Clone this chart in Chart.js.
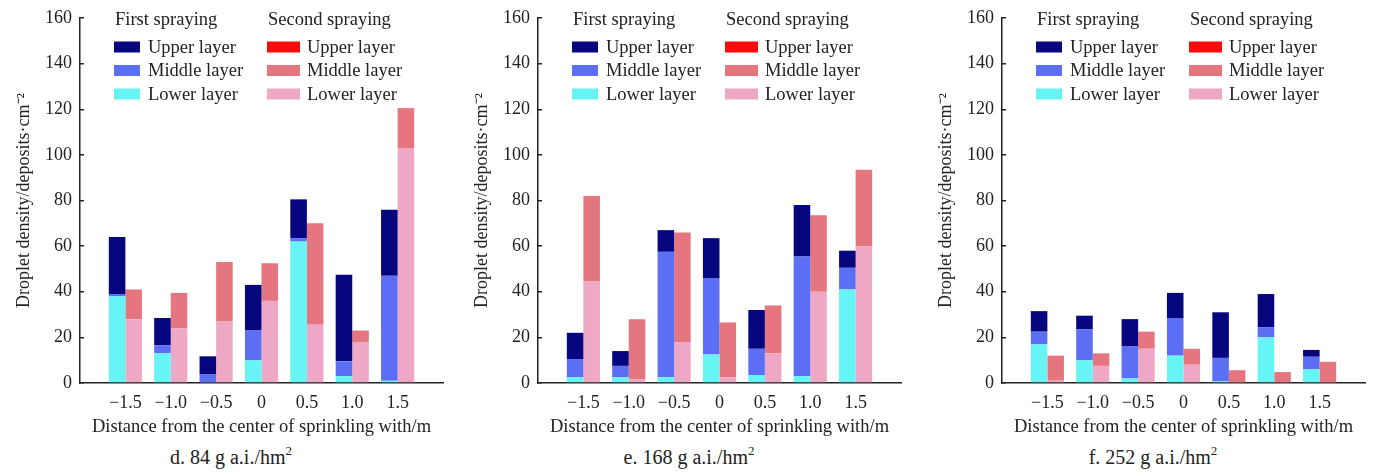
<!DOCTYPE html>
<html lang="en">
<head>
    <meta charset="UTF-8">
    <title>Droplet density</title>
    <script src="https://cdn.jsdelivr.net/npm/chart.js"></script>
    <style>
        body { margin: 0; background: #fff; width: 1373px; height: 474px; overflow: hidden; position: relative; }
        .panel { position: absolute; top: 0; width: 462px; height: 474px; }
        .panel canvas { position: absolute; left: 0; top: 0; }
        .caption { position: absolute; left: 0; width: 462px; top: 446px; text-align: center;
            font-family: "Liberation Serif", serif; font-size: 20px; color: #222; }
        .caption sup { font-size: 13px; vertical-align: 9px; line-height: 0; }
    </style>
</head>
<body>
    <div class="panel" style="left:0px"><canvas id="chartD" width="450" height="440"></canvas>
        <div class="caption">d. 84 g a.i./hm<sup>2</sup></div></div>
    <div class="panel" style="left:458px"><canvas id="chartE" width="450" height="440"></canvas>
        <div class="caption">e. 168 g a.i./hm<sup>2</sup></div></div>
    <div class="panel" style="left:922px"><canvas id="chartF" width="450" height="440"></canvas>
        <div class="caption">f. 252 g a.i./hm<sup>2</sup></div></div>

    <script>
        // distances from the sprinkling centre (x axis)
        const distances = ['\u22121.5', '\u22121.0', '\u22120.5', '0', '0.5', '1.0', '1.5'];

        // layer values (stacked)
        // d. 84 g a.i./hm2
        const firstLowerD = [38, 13, 0.3, 10, 62, 3, 1];
        const firstMiddleD = [1, 3.5, 3.4, 13, 1.5, 6.5, 46];
        const firstUpperD = [25, 12, 8, 20, 17, 38, 29];
        const secondLowerD = [28, 24, 27, 36, 25.5, 18, 103];
        const secondMiddleD = [13, 15.5, 26, 16.5, 44.5, 5, 17.5];
        const secondUpperD = [0, 0, 0, 0, 0, 0, 0];

        // e. 168 g a.i./hm2
        const firstLowerE = [2.5, 2.5, 2.5, 12.5, 3.5, 3, 41];
        const firstMiddleE = [8, 5, 55, 33.5, 11.5, 52.5, 9.5];
        const firstUpperE = [11.5, 6.5, 9.5, 17.5, 17, 22.5, 7.5];
        const secondLowerE = [44.5, 1.5, 18, 2.5, 13, 40, 60];
        const secondMiddleE = [37.5, 26.5, 48, 24, 21, 33.5, 33.5];
        const secondUpperE = [0, 0, 0, 0, 0, 0, 0];

        // f. 252 g a.i./hm2
        const firstLowerF = [17, 10, 2, 12, 0.7, 20, 6];
        const firstMiddleF = [5.5, 13.5, 14, 16.5, 10.3, 4.5, 5.5];
        const firstUpperF = [9, 6, 12, 11, 20, 14.5, 3];
        const secondLowerF = [1, 7.5, 15, 8, 0.3, 0.3, 0.3];
        const secondMiddleF = [11, 5.5, 7.5, 7, 5.3, 4.5, 9];
        const secondUpperF = [0, 0, 0, 0, 0, 0, 0];

        const colors = {
            firstUpper: '#06067e', firstMiddle: '#5b6ef4', firstLower: '#66f4f4',
            secondUpper: '#ff0a0a', secondMiddle: '#e5767f', secondLower: '#eea8c5'
        };

        const FONT = '"Liberation Serif", "Times New Roman", serif';
        const INK = '#222';

        // empty slot on each side so the axis runs from -2.0 to 2.0
        const pad = arr => [null, ...arr, null];

        // legend drawn inside the plot area, two columns
        const sprayLegend = {
            id: 'sprayLegend',
            afterDraw(chart) {
                const ctx = chart.ctx;
                const a = chart.chartArea;
                const ds = chart.data.datasets;
                const cols = [
                    { x: a.left + 34, w: 26, text: a.left + 68, title: 'First spraying', stack: 'first' },
                    { x: a.left + 187, w: 33, text: a.left + 227, title: 'Second spraying', stack: 'second' }
                ];
                const rows = ['Upper layer', 'Middle layer', 'Lower layer'];
                ctx.save();
                ctx.font = '18.5px ' + FONT;
                ctx.textBaseline = 'middle';
                cols.forEach(c => {
                    ctx.fillStyle = INK;
                    ctx.fillText(c.title, c.x + 1, a.top + 2);
                    rows.forEach((r, i) => {
                        const d = ds.find(s => s.stack === c.stack && s.label === r);
                        const y = a.top + 29 + i * 23.5;
                        ctx.fillStyle = d.backgroundColor;
                        ctx.fillRect(c.x, y - 5.5, c.w, 11);
                        ctx.fillStyle = INK;
                        ctx.fillText(r, c.text, y + 1);
                    });
                });
                ctx.restore();
            }
        };

        function makeChart(id, fl, fm, fu, sl, sm, su) {
            const ctx = document.getElementById(id).getContext('2d');
            return new Chart(ctx, {
                type: 'bar',
                data: {
                    labels: pad(distances),
                    datasets: [
                        { label: 'Lower layer', stack: 'first', data: pad(fl), backgroundColor: colors.firstLower },
                        { label: 'Middle layer', stack: 'first', data: pad(fm), backgroundColor: colors.firstMiddle },
                        { label: 'Upper layer', stack: 'first', data: pad(fu), backgroundColor: colors.firstUpper },
                        { label: 'Lower layer', stack: 'second', data: pad(sl), backgroundColor: colors.secondLower },
                        { label: 'Middle layer', stack: 'second', data: pad(sm), backgroundColor: colors.secondMiddle },
                        { label: 'Upper layer', stack: 'second', data: pad(su), backgroundColor: colors.secondUpper }
                    ]
                },
                options: {
                    responsive: false,
                    animation: false,
                    devicePixelRatio: 1,
                    categoryPercentage: 0.73,
                    barPercentage: 1,
                    layout: { padding: { top: 18, right: 7, left: 0, bottom: 0 } },
                    plugins: { legend: { display: false }, tooltip: { enabled: false } },
                    scales: {
                        x: {
                            stacked: true,
                            offset: false,
                            grid: { display: false },
                            border: { display: true, color: INK, width: 1.5 },
                            ticks: { color: INK, font: { family: FONT, size: 18 }, padding: 1, maxRotation: 0, autoSkip: false },
                            title: {
                                display: true, text: 'Distance from the center of sprinkling with/m',
                                color: INK, font: { family: FONT, size: 18.5 }, padding: { top: 0, bottom: 2 }
                            },
                            afterFit: s => { s.height = 57; }
                        },
                        y: {
                            stacked: true,
                            min: 0, max: 160,
                            grid: { display: true, drawOnChartArea: false, drawTicks: true, tickLength: -4, color: INK, lineWidth: 1.5 },
                            border: { display: true, color: INK, width: 1.5 },
                            // small lineHeight keeps the top label from pushing the plot area down
                            ticks: { stepSize: 20, color: INK, font: { family: FONT, size: 18, lineHeight: 0.6 }, padding: 12 },
                            title: {
                                display: true, text: 'Droplet density/deposits\u00b7cm\u207b\u00b2',
                                color: INK, font: { family: FONT, size: 18 }, padding: { top: 13, bottom: 0 }
                            },
                            afterFit: s => { s.width = 80; }
                        }
                    }
                },
                plugins: [sprayLegend]
            });
        }

        makeChart('chartD', firstLowerD, firstMiddleD, firstUpperD, secondLowerD, secondMiddleD, secondUpperD);
        makeChart('chartE', firstLowerE, firstMiddleE, firstUpperE, secondLowerE, secondMiddleE, secondUpperE);
        makeChart('chartF', firstLowerF, firstMiddleF, firstUpperF, secondLowerF, secondMiddleF, secondUpperF);
    </script>
</body>
</html>
